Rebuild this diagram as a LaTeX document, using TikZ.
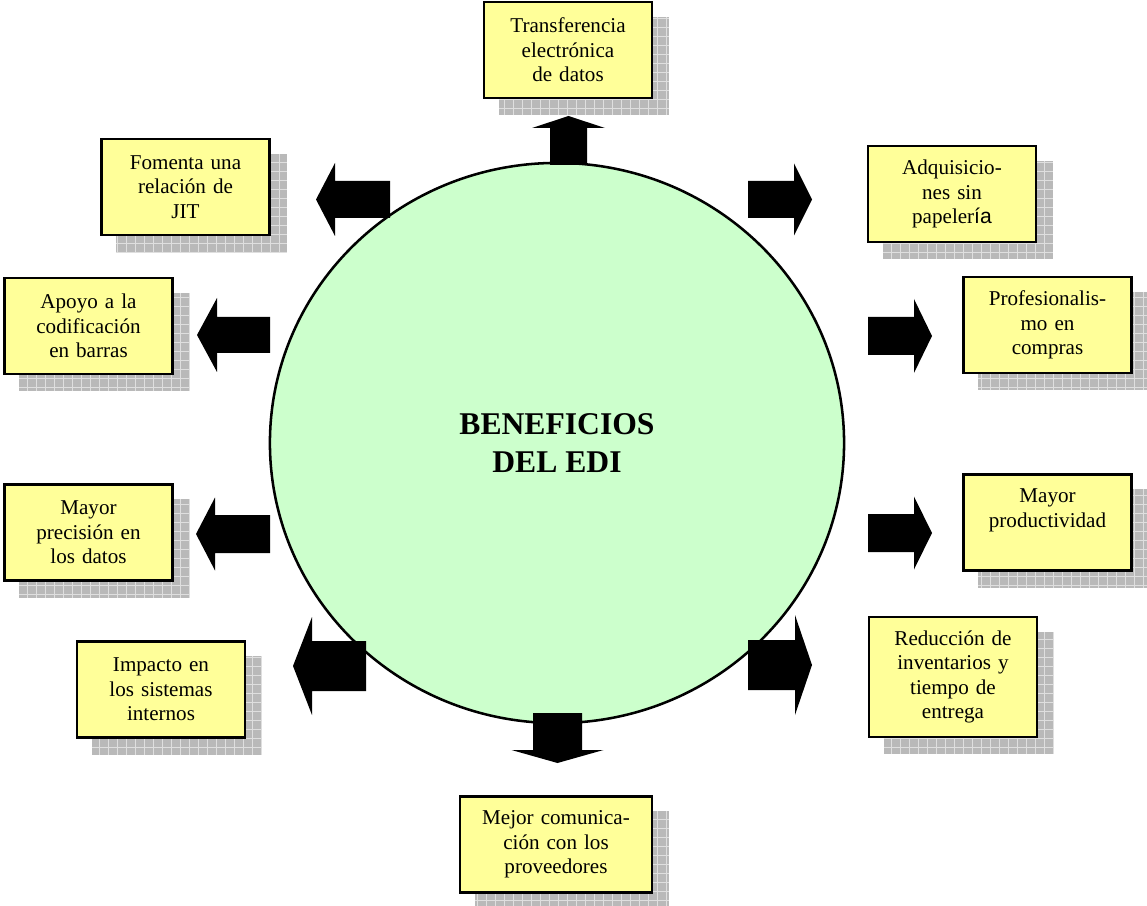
\documentclass[tikz,border=0pt]{standalone}
\usepackage{fontspec}
\setmainfont{Liberation Serif}
\newfontfamily\arialfont{Liberation Sans}
\usetikzlibrary{shapes.geometric, backgrounds}

\definecolor{boxyellow}{RGB}{255,255,153}
\definecolor{edigreen}{RGB}{204,255,204}

\tikzset{
  benefit/.style={draw=black, line width=1.6pt, fill=boxyellow, align=center,
    text width=3.8cm, inner xsep=0.2cm, inner ysep=0pt, minimum height=2.4cm,
    font=\fontsize{15}{17.5}\selectfont},
  shadowbox/.style={fill=gray!55},
  shadowgrid/.style={draw=gray!25, line width=0.5pt},
}

% block arrow: tail x, tail y, angle, length, shaft width, head width, head length
\newcommand{\blockarrow}[7]{%
  \fill[shift={(#1,#2)}, rotate=#3]
    (0,-#5/2) -- (#4-#7,-#5/2) -- (#4-#7,-#6/2) -- (#4,0)
    -- (#4-#7,#6/2) -- (#4-#7,#5/2) -- (0,#5/2) -- cycle;}

\begin{document}
\begin{tikzpicture}[x=0.025cm, y=-0.025cm]

  \useasboundingbox (0,0) rectangle (1147,906);

  %%%%%%%%%%%%%%%%%%%%%%%%%%%%%%%%%%%%%%%%%%%%%%%%%
  % Centre
  \node[ellipse, draw, line width=1.8pt, fill=edigreen,
        minimum width=14.35cm, minimum height=14cm, align=center,
        font=\fontsize{22.5}{26.5}\selectfont\bfseries] (edi) at (557,443)
        {BENEFICIOS\\DEL EDI};

  %%%%%%%%%%%%%%%%%%%%%%%%%%%%%%%%%%%%%%%%%%%%%%%%%
  % Benefits
  \node[benefit] (tr) at (568,50) {Transferencia\\electrónica\\de datos};
  \node[benefit] (fo) at (185.5,187) {Fomenta una\\relación de\\JIT};
  \node[benefit] (ad) at (952,194) {Adquisicio-\\nes sin\\papeler{\arialfont ía}};
  \node[benefit] (ap) at (88.5,326) {Apoyo a la\\codificación\\en barras};
  \node[benefit] (pr) at (1047.5,325) {Profesionalis-\\mo en\\compras};
  \node[benefit] (md) at (88.5,532.5) {Mayor\\precisión en\\los datos};
  \node[benefit, text depth=1.35cm] (mp) at (1047.5,522.5) {Mayor\\productividad};
  \node[benefit] (im) at (161,689.5) {Impacto en\\los sistemas\\internos};
  \node[benefit, minimum height=3cm] (re) at (953,677)
       {Reducción de\\inventarios y\\tiempo de\\entrega};
  \node[benefit, text width=4.4cm] (me) at (556,844.5)
       {Mejor comunica-\\ción con los\\proveedores};

  % Shadows
  \begin{scope}[on background layer]
    \foreach \bx in {tr,fo,ad,ap,pr,md,mp,im,re,me} {
      \fill[shadowbox] ([shift={(16,16)}]\bx.north west)
        rectangle ([shift={(16,16)}]\bx.south east);
      \draw[shadowgrid, step=0.225cm] ([shift={(16,16)}]\bx.north west)
        grid ([shift={(16,16)}]\bx.south east);
    }
  \end{scope}

  %%%%%%%%%%%%%%%%%%%%%%%%%%%%%%%%%%%%%%%%%%%%%%%%%
  % Arrows
  \blockarrow{568.5}{165}{90}{49}{37}{73}{12}
  \blockarrow{390}{199.5}{180}{74}{37}{73}{19}
  \blockarrow{748}{199.5}{0}{64}{37}{72}{18}
  \blockarrow{270}{335}{180}{73}{36}{74}{20}
  \blockarrow{868}{336}{0}{64}{38}{74}{18}
  \blockarrow{270}{534}{180}{74}{38}{73}{19}
  \blockarrow{868}{533}{0}{64}{38}{73}{18}
  \blockarrow{366}{666}{180}{73}{50}{98}{19}
  \blockarrow{748}{665}{0}{64}{50}{100}{17}
  \blockarrow{557.5}{713}{270}{50}{49}{92}{13}

\end{tikzpicture}
\end{document}
